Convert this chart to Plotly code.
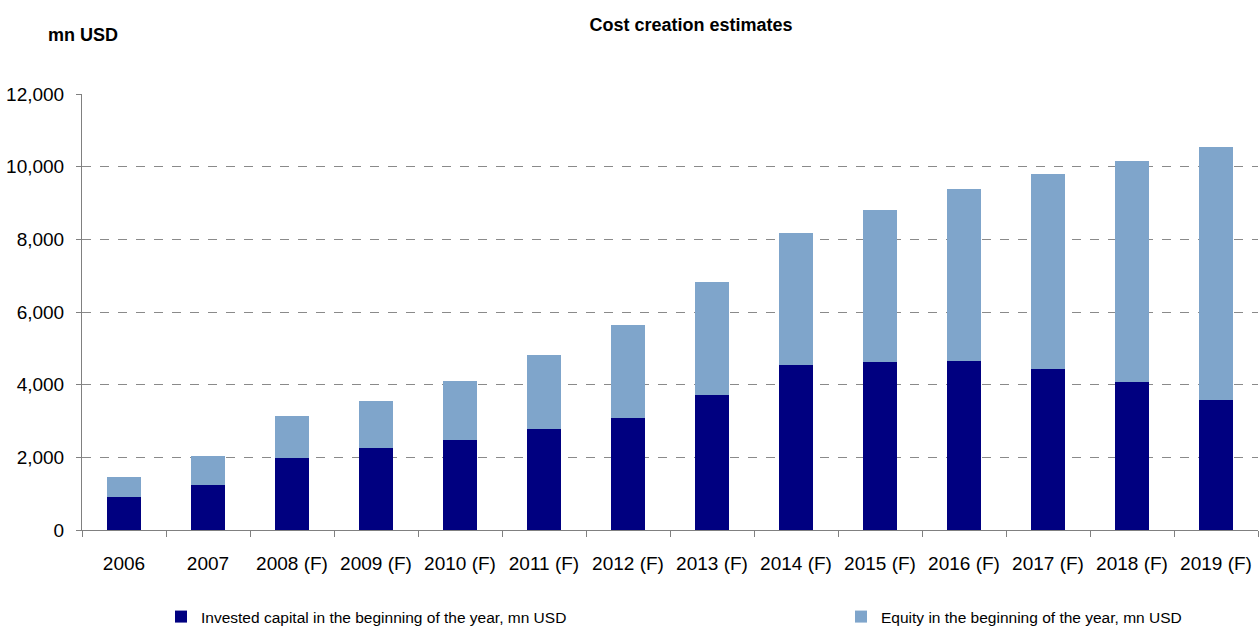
import plotly.graph_objects as go

years = ["2006", "2007", "2008 (F)", "2009 (F)", "2010 (F)", "2011 (F)", "2012 (F)",
         "2013 (F)", "2014 (F)", "2015 (F)", "2016 (F)", "2017 (F)", "2018 (F)", "2019 (F)"]
invested = [910, 1240, 1980, 2260, 2490, 2770, 3070, 3720, 4540, 4620, 4650, 4430, 4070, 3580]
equity = [550, 800, 1160, 1290, 1600, 2060, 2560, 3110, 3630, 4190, 4740, 5370, 6090, 6960]

FONT = "Liberation Sans, Arial, sans-serif"

fig = go.Figure()
fig.add_trace(go.Bar(x=years, y=invested, name="Invested capital in the beginning of the year, mn USD",
                     marker=dict(color="#000080", line=dict(width=0)), legend="legend"))
fig.add_trace(go.Bar(x=years, y=equity, name="Equity in the beginning of the year, mn USD",
                     marker=dict(color="#7FA5CB", line=dict(width=0)), legend="legend2"))

leg_common = dict(orientation="h", xref="container", yref="container",
                  xanchor="left", y=1 - 617/628, yanchor="middle",
                  font=dict(family=FONT, size=15.5), itemwidth=30,
                  bgcolor="rgba(0,0,0,0)")

fig.update_layout(
    barmode="stack",
    bargap=0.6,
    width=1260, height=628,
    margin=dict(l=82, r=2, t=94, b=98),
    paper_bgcolor="white", plot_bgcolor="white",
    font=dict(family=FONT, color="#000000", size=19),
    title=dict(text="<b>Cost creation estimates</b>", x=691/1260, xanchor="center",
               y=1 - 25/628, yanchor="middle", font=dict(family=FONT, size=18)),
    showlegend=True,
    legend=dict(x=161/1260, **leg_common),
    legend2=dict(x=841/1260, **leg_common),
    annotations=[dict(text="<b>mn USD</b>", xref="paper", yref="paper",
                      x=1/1176, y=1 + 59/436, xanchor="center", yanchor="middle",
                      showarrow=False, font=dict(family=FONT, size=18))],
)

fig.update_yaxes(range=[0, 12000], dtick=2000, tickformat=",", showgrid=True,
                 gridcolor="#8a8a8a", griddash="dash", gridwidth=1,
                 showline=True, linecolor="#808080", linewidth=1,
                 ticks="outside", ticklen=5, tickcolor="#808080",
                 ticklabelstandoff=8, zeroline=False,
                 tickfont=dict(family=FONT, size=19))
fig.update_xaxes(showline=True, linecolor="#808080", linewidth=1,
                 ticks="outside", ticklen=6, tickcolor="#808080", tickson="boundaries",
                 ticklabelstandoff=16, showgrid=False,
                 tickfont=dict(family=FONT, size=19))

fig.write_html("out.html")
